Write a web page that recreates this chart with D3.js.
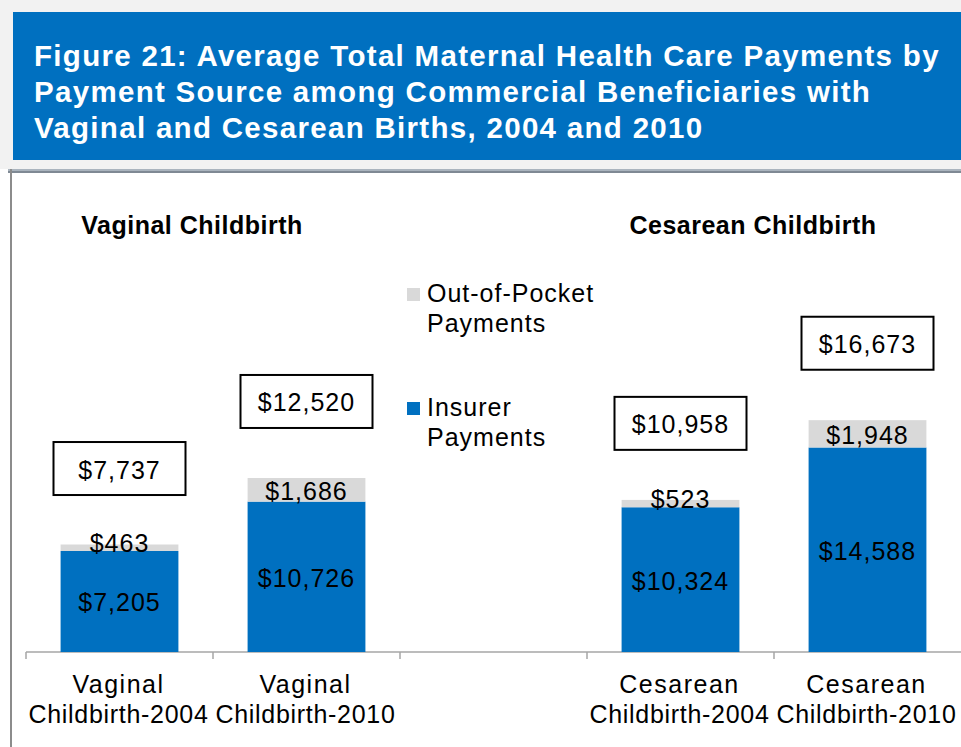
<!DOCTYPE html>
<html>
<head>
<meta charset="utf-8">
<script src="https://cdn.jsdelivr.net/npm/d3@7"></script>
<style>
  body { margin: 0; background: #fff; }
  text { font-family: "Liberation Sans", Arial, sans-serif; }
</style>
</head>
<body>
<div id="chart"></div>
<script>
// chart data
let categories = ["Vaginal Childbirth-2004", "Vaginal Childbirth-2010", "gap", "Cesarean Childbirth-2004", "Cesarean Childbirth-2010"];
let barCategories = ["Vaginal Childbirth-2004", "Vaginal Childbirth-2010", "Cesarean Childbirth-2004", "Cesarean Childbirth-2010"];
let insurer = [7205, 10726, 10324, 14588];
let outOfPocket = [463, 1686, 523, 1948];
let totalLabels = [7737, 12520, 10958, 16673]; // the boxed totals as printed
let seriesNames = ["Out-of-Pocket Payments", "Insurer Payments"];
let groupTitles = ["Vaginal Childbirth", "Cesarean Childbirth"];
let titleLines = [
  "Figure 21: Average Total Maternal Health Care Payments by",
  "Payment Source among Commercial Beneficiaries with",
  "Vaginal and Cesarean Births, 2004 and 2010"
];

let width = 961, height = 747;
let blue = "#0070c0", gray = "#d9d9d9";

let svg = d3.select("#chart").append("svg")
  .attr("width", width)
  .attr("height", height);

// header area
svg.append("rect").attr("width", width).attr("height", 169).attr("fill", "#f2f2f2");
svg.append("rect").attr("x", 13).attr("y", 12).attr("width", width - 13).attr("height", 148).attr("fill", blue);
svg.append("rect").attr("x", 8).attr("y", 169).attr("width", width - 8).attr("height", 2).attr("fill", "#aab4be");
svg.append("rect").attr("x", 8).attr("y", 171).attr("width", width - 8).attr("height", 2).attr("fill", "#7f8994");
svg.append("rect").attr("x", 10).attr("y", 169).attr("width", 2).attr("height", height - 169).attr("fill", "#8c8c8c");

svg.append("g").selectAll("text")
  .data(titleLines)
  .enter()
  .append("text")
  .attr("x", 34)
  .attr("y", (d, i) => 66 + i * 36)
  .attr("fill", "#fff")
  .attr("font-weight", "bold")
  .attr("font-size", "29.5px")
  .attr("letter-spacing", "1.3px")
  .text(d => d);

// scales
let x = d3.scaleBand().domain(categories).range([26, width]);
let y = d3.scaleLinear().domain([0, 20000]).range([652, 652 - 20000 * 0.01402]);
let barW = x.bandwidth() * 0.63;
let cx = d => x(d) + x.bandwidth() / 2;

// axis line + ticks on the band edges
let axis = svg.append("g").attr("stroke", "#a6a6a6").attr("stroke-width", 1.5);
axis.append("line").attr("x1", x.range()[0]).attr("x2", x.range()[1]).attr("y1", y(0)).attr("y2", y(0));
axis.selectAll(".tick")
  .data(categories)
  .enter()
  .append("line")
  .attr("x1", d => x(d)).attr("x2", d => x(d))
  .attr("y1", y(0)).attr("y2", y(0) + 7);

// bars
let rows = barCategories.map((c, i) => ({ cat: c, ins: insurer[i], oop: outOfPocket[i], total: totalLabels[i] }));
let fmt = d3.format("$,");

let bars = svg.append("g").selectAll("g").data(rows).enter().append("g");

bars.append("rect")
  .attr("x", d => cx(d.cat) - barW / 2)
  .attr("width", barW)
  .attr("y", d => y(d.ins))
  .attr("height", d => y(0) - y(d.ins))
  .attr("fill", blue);

bars.append("rect")
  .attr("x", d => cx(d.cat) - barW / 2)
  .attr("width", barW)
  .attr("y", d => y(d.ins + d.oop))
  .attr("height", d => y(d.ins) - y(d.ins + d.oop))
  .attr("fill", gray);

let valueText = sel => sel
  .attr("text-anchor", "middle")
  .attr("dominant-baseline", "central")
  .attr("font-size", "25px")
  .attr("letter-spacing", "1px")
  .attr("fill", "#000");

bars.append("text")
  .call(valueText)
  .attr("x", d => cx(d.cat))
  .attr("y", d => (y(0) + y(d.ins)) / 2 + 1)
  .text(d => fmt(d.ins));

// small segments push the label up a bit
bars.append("text")
  .call(valueText)
  .attr("x", d => cx(d.cat))
  .attr("y", d => Math.min((y(d.ins) + y(d.ins + d.oop)) / 2, y(d.ins) - 9) + 1)
  .text(d => fmt(d.oop));

// boxed totals
let boxW = 132, boxH = 53;
bars.append("rect")
  .attr("x", d => cx(d.cat) - boxW / 2)
  .attr("y", d => y(d.total) - 75 - boxH / 2)
  .attr("width", boxW)
  .attr("height", boxH)
  .attr("fill", "#fff")
  .attr("stroke", "#000")
  .attr("stroke-width", 2);

bars.append("text")
  .call(valueText)
  .attr("x", d => cx(d.cat))
  .attr("y", d => y(d.total) - 75 + 1)
  .text(d => fmt(d.total));

// category labels, two lines
let cats = svg.append("g").selectAll("text")
  .data(barCategories)
  .enter()
  .append("text")
  .attr("text-anchor", "middle")
  .attr("font-size", "25px")
  .attr("letter-spacing", "0.7px")
  .attr("fill", "#000");
cats.append("tspan").attr("x", d => cx(d) - 1).attr("y", 693).attr("letter-spacing", "1.5px").text(d => d.split(" ")[0]);
cats.append("tspan").attr("x", d => cx(d) - 1).attr("y", 723).text(d => d.split(" ")[1]);

// group headings
svg.append("g").selectAll("text")
  .data(groupTitles)
  .enter()
  .append("text")
  .attr("x", (d, i) => x(barCategories[i * 2 + 1]) - 21)
  .attr("y", 234)
  .attr("text-anchor", "middle")
  .attr("font-weight", "bold")
  .attr("font-size", "25px")
  .attr("letter-spacing", "0.5px")
  .attr("fill", "#000")
  .text(d => d);

// legend in the empty slot
let legend = svg.append("g").attr("transform", `translate(${x("gap") + 7},0)`);
let legendColors = [gray, blue];
let legendTop = [288, 402];
seriesNames.forEach((name, i) => {
  let row = legend.append("g").attr("transform", `translate(0,${legendTop[i]})`);
  row.append("rect").attr("width", 13).attr("height", 13).attr("fill", legendColors[i]);
  let words = name.split(" ");
  let t = row.append("text")
    .attr("font-size", "25px")
    .attr("letter-spacing", "1px")
    .attr("fill", "#000");
  t.append("tspan").attr("x", 20).attr("y", 14).text(words[0]);
  t.append("tspan").attr("x", 20).attr("y", 44).text(words.slice(1).join(" "));
});
</script>
</body>
</html>
